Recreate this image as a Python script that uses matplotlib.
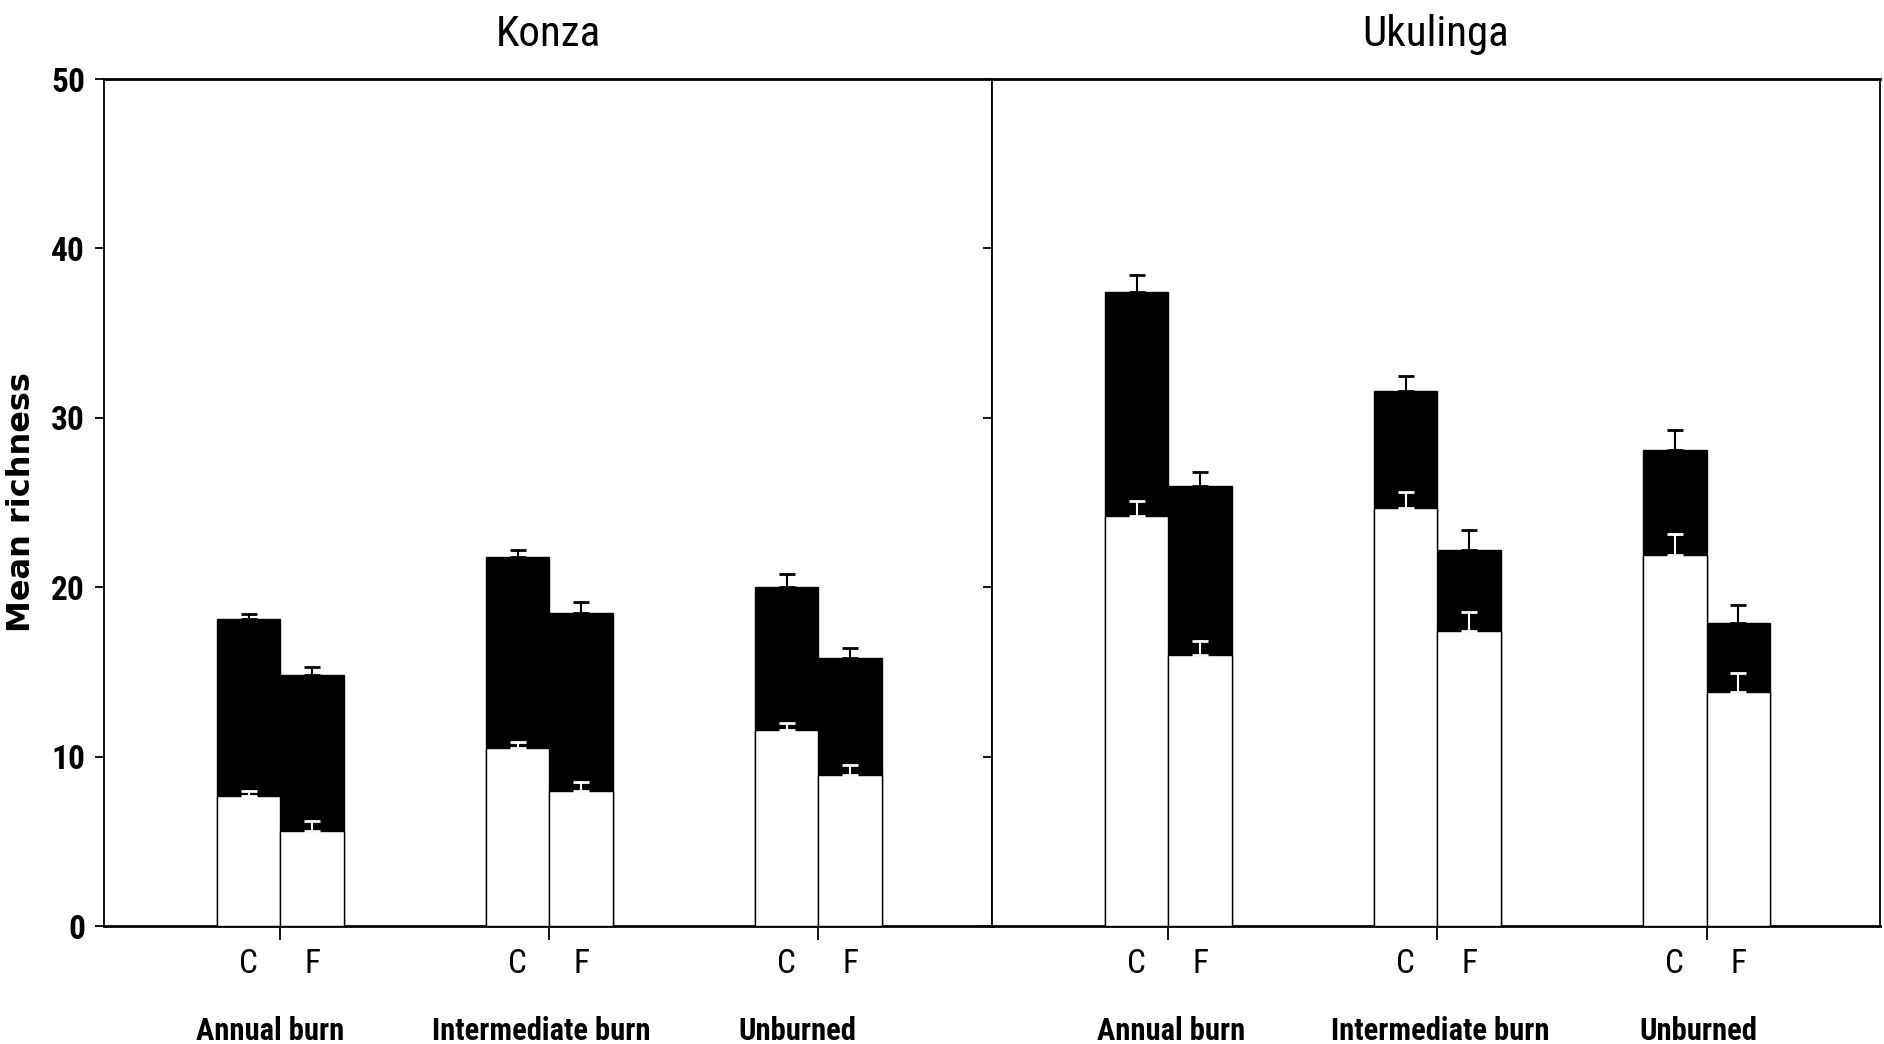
import numpy as np
import matplotlib
matplotlib.use('Agg')
import matplotlib.pyplot as plt

# data
sites = ['Konza', 'Ukulinga']
groups = ['Annual burn', 'Intermediate burn', 'Unburned']
treatments = ['C', 'F']

# total richness (black bars) and lower part (white bars), order: C, F per group
total = {
    'Konza':    [18.1, 14.8, 21.8, 18.5, 20.0, 15.8],
    'Ukulinga': [37.4, 26.0, 31.6, 22.2, 28.1, 17.9],
}
total_err = {
    'Konza':    [0.3, 0.5, 0.4, 0.6, 0.8, 0.6],
    'Ukulinga': [1.05, 0.8, 0.85, 1.2, 1.2, 1.05],
}
lower = {
    'Konza':    [7.65, 5.6, 10.5, 8.0, 11.6, 8.9],
    'Ukulinga': [24.2, 16.0, 24.7, 17.4, 21.9, 13.8],
}
lower_err = {
    'Konza':    [0.35, 0.6, 0.35, 0.5, 0.4, 0.6],
    'Ukulinga': [0.9, 0.85, 0.9, 1.15, 1.25, 1.15],
}

narrow = ['Roboto Condensed', 'Barlow Semi Condensed', 'DejaVu Sans']

# small horizontal nudges of the group labels (in x units)
label_shift = {'Konza': [-0.04, -0.03, -0.08], 'Ukulinga': [0.01, 0.01, -0.03]}

fig = plt.figure(figsize=(18.84, 10.44), dpi=100)
left, mid, right = 0.0552, 0.5265, 0.9979
bottom, top = 0.1130, 0.9243
axes = [fig.add_axes([left, bottom, mid - left, top - bottom]),
        fig.add_axes([mid, bottom, right - mid, top - bottom])]

width = 0.237
gpos = np.arange(1, len(groups) + 1)
xs = np.ravel(np.column_stack([gpos - width / 2, gpos + width / 2]))

for ax, site in zip(axes, sites):
    ax.bar(xs, total[site], width, color='black', edgecolor='black', linewidth=1, zorder=2)
    ax.errorbar(xs, total[site], yerr=[np.zeros(6), total_err[site]], fmt='none',
                ecolor='black', elinewidth=1.5, capsize=6, capthick=2, zorder=3)
    ax.bar(xs, lower[site], width, color='white', edgecolor='black', linewidth=1, zorder=4)
    ax.errorbar(xs, lower[site], yerr=[np.zeros(6), lower_err[site]], fmt='none',
                ecolor='white', elinewidth=1.5, capsize=6, capthick=2, zorder=5)

    ax.set_xlim(0.344, 3.645)
    ax.set_ylim(0, 50)

    ax.set_xticks(gpos)
    ax.set_xticklabels([])
    ax.tick_params(axis='x', which='major', direction='out', length=10, width=1.3)
    ax.set_xticks(xs, minor=True)
    ax.set_xticklabels(treatments * len(groups), minor=True, family=narrow, fontsize=24)
    ax.tick_params(axis='x', which='minor', length=0, pad=16)

    for g, name, dx in zip(gpos, groups, label_shift[site]):
        ax.text(g + dx, -0.1346, name, transform=ax.get_xaxis_transform(), ha='center',
                va='baseline', family=narrow, fontweight='bold', fontsize=22)

    ax.set_title(site, family=narrow, fontsize=31, pad=24)

    ax.set_yticks(np.arange(0, 51, 10))
    ax.tick_params(axis='y', direction='out', length=6.5, width=1.3, pad=7)
    for s in ['top', 'bottom']:
        ax.spines[s].set_linewidth(2.0)
    for s in ['left', 'right']:
        ax.spines[s].set_linewidth(1.3)

axes[0].set_yticklabels([str(v) for v in range(0, 51, 10)], family=narrow,
                        fontweight='bold', fontsize=24)
axes[1].set_yticklabels([])

fig.text(0.0114, (bottom + top) / 2, 'Mean richness', rotation=90, ha='center',
         va='center', fontsize=23, fontweight='bold', family='DejaVu Sans')

fig.savefig('out.png', dpi=100)
